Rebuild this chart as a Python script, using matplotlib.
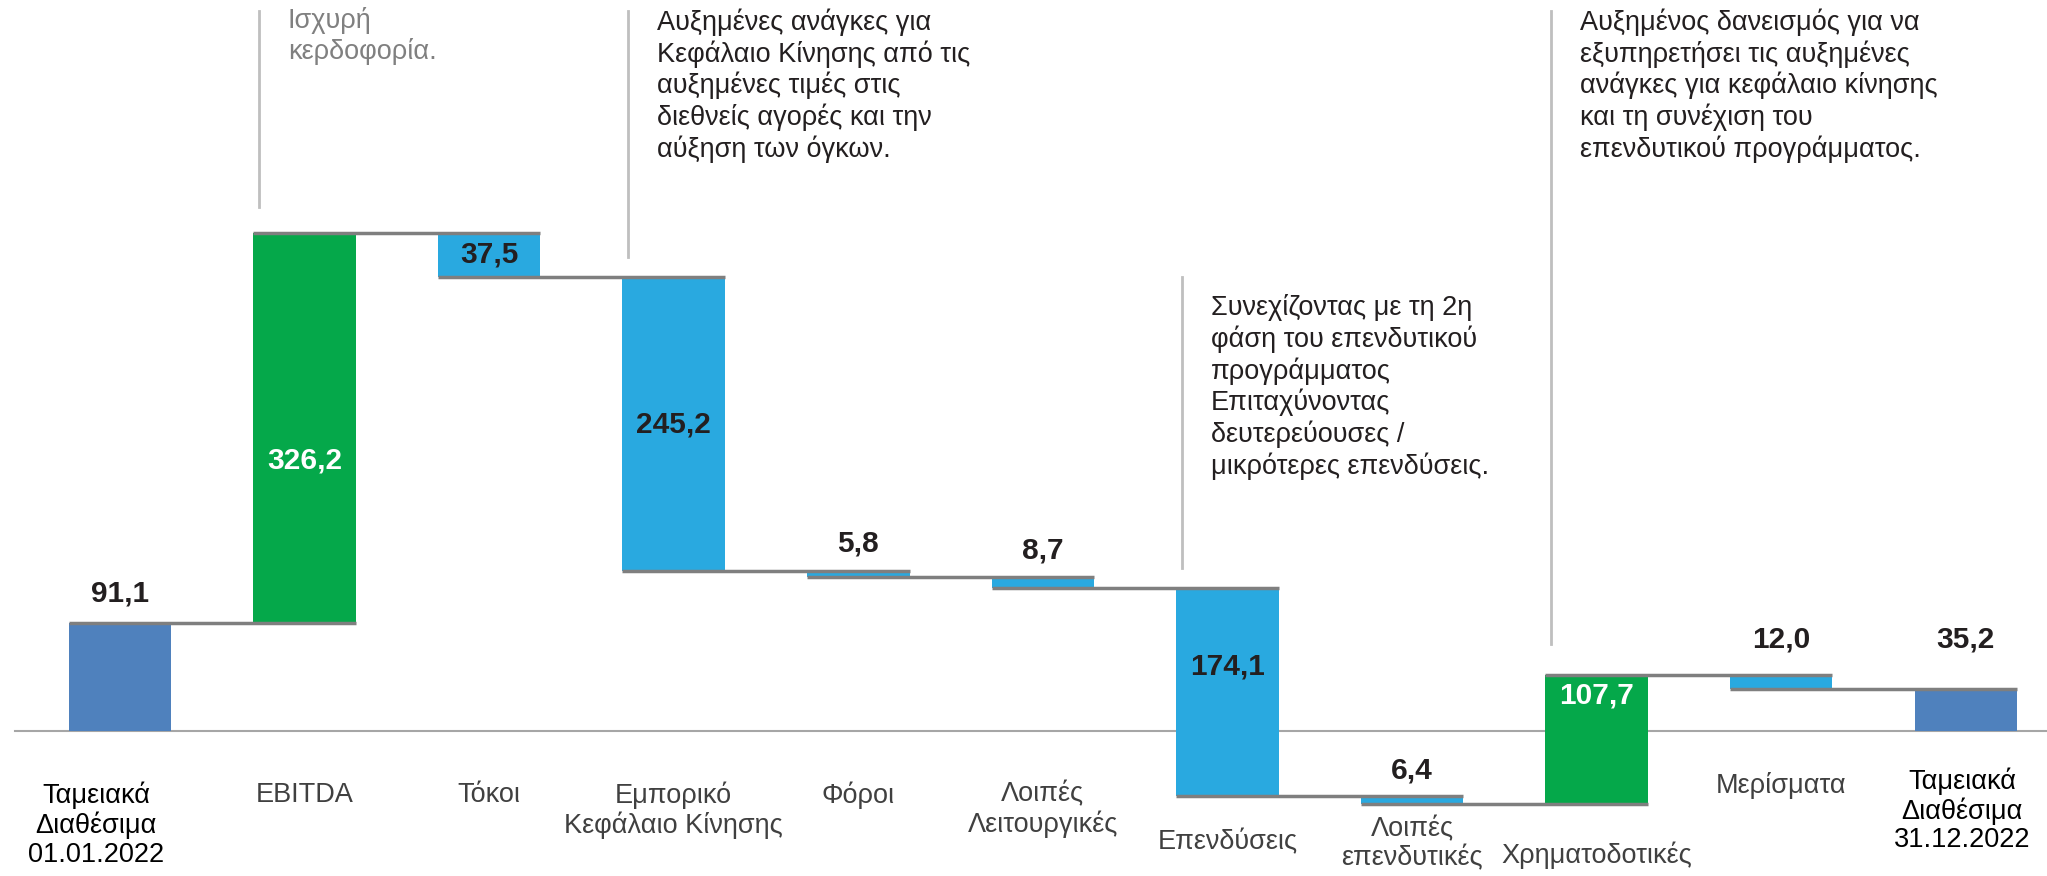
import matplotlib
matplotlib.use("Agg")
import matplotlib.pyplot as plt
from matplotlib import font_manager


# ------------------ Data ------------------ #
categories = [
    "Ταμειακά\nΔιαθέσιμα\n01.01.2022", "EBITDA", "Τόκοι",
    "Εμπορικό\nΚεφάλαιο Κίνησης", "Φόροι", "Λοιπές\nΛειτουργικές",
    "Επενδύσεις", "Λοιπές\nεπενδυτικές", "Χρηματοδοτικές", "Μερίσματα",
    "Ταμειακά\nΔιαθέσιμα\n31.12.2022",
]
values = [91.1, 326.2, -37.5, -245.2, -5.8, -8.7, -174.1, -6.4, 107.7, -12.0, 35.2]
is_total = [True, False, False, False, False, False, False, False, False, False, True]

notes = [
    "Ισχυρή\nκερδοφορία.",
    "Αυξημένες ανάγκες για\nΚεφάλαιο Κίνησης από τις\nαυξημένες τιμές στις\n"
    "διεθνείς αγορές και την\nαύξηση των όγκων.",
    "Συνεχίζοντας με τη 2η\nφάση του επενδυτικού\nπρογράμματος\nΕπιταχύνοντας\n"
    "δευτερεύουσες /\nμικρότερες επενδύσεις.",
    "Αυξημένος δανεισμός για να\nεξυπηρετήσει τις αυξημένες\nανάγκες για κεφάλαιο κίνησης\n"
    "και τη συνέχιση του\nεπενδυτικού προγράμματος.",
]
note_bar = [1, 3, 6, 8]

# ------------------ Layout ------------------ #
label_y = [115, 227, 399, 257, 157, 151, 54, -33, 30, 77, 77]
cat_x_shift = [-0.13, 0, 0, 0, 0, 0, 0, 0, 0, 0, -0.02]
cat_y = [-42, -42, -42, -42, -42, -42, -82, -71, -92, -34, -30]
note_line = [(439, 603), (397, 603), (137, 380), (73, 603)]
note_top = [606, 605, 366, 605]
note_color = ["#808080", "#231F20", "#231F20", "#231F20"]

C_TOTAL = "#4F81BD"
C_UP = "#05A84A"
C_DOWN = "#29A9E0"
C_LINE = "#7F7F7F"
DARK = "#231F20"


def pick_font(names):
    for n in names:
        try:
            font_manager.findfont(n, fallback_to_default=False)
            return n
        except Exception:
            continue
    return "DejaVu Sans"


narrow = pick_font(["Liberation Sans Narrow", "Liberation Sans"])
regular = pick_font(["Liberation Sans", "DejaVu Sans"])

fig = plt.figure(figsize=(20.47, 8.76), dpi=100)
ax = fig.add_axes([0, 0, 1, 1])
ax.set_xlim(-0.65, 10.44)
ax.set_ylim(-121, 612)
ax.axis("off")

w = 0.555
level = 0.0
bottoms, heights, colors, ends = [], [], [], []
for v, tot in zip(values, is_total):
    if tot:
        bottoms.append(0)
        heights.append(v)
        colors.append(C_TOTAL)
        level = v
    else:
        bottoms.append(level if v > 0 else level + v)
        heights.append(abs(v))
        colors.append(C_UP if v > 0 else C_DOWN)
        level = level + v
    ends.append(level)

x = list(range(len(values)))
ax.bar(x, heights, bottom=bottoms, width=w, color=colors, zorder=2)

# baseline
ax.plot([-0.57, 10.44], [0, 0], color="#A6A6A6", lw=1.5, zorder=1)

# connectors
for i in range(len(values) - 1):
    ax.plot([i - w / 2, i + 1 + w / 2], [ends[i], ends[i]], color=C_LINE, lw=2.5,
            solid_capstyle="butt", zorder=3)

# value labels
for i, v in enumerate(values):
    col = "white" if colors[i] == C_UP else DARK
    ax.text(i, label_y[i], f"{abs(v):.1f}".replace(".", ","), ha="center", va="center",
            fontsize=21.5, fontweight="bold", color=col, family=regular, zorder=4)

# category labels
for i, c in enumerate(categories):
    col = "#000000" if is_total[i] else "#404040"
    ax.text(i + cat_x_shift[i], cat_y[i], c, ha="center", va="top", fontsize=19.5,
            color=col, family=narrow, linespacing=1.12)

# notes with vertical lines
for k, b in enumerate(note_bar):
    lx = b - 0.245
    ax.plot([lx, lx], note_line[k], color="#BFBFBF", lw=2, zorder=1)
    ax.text(lx + 0.155, note_top[k], notes[k], ha="left", va="top", fontsize=19.5,
            color=note_color[k], family=narrow, linespacing=1.2)

fig.savefig("out.png", dpi=100)
